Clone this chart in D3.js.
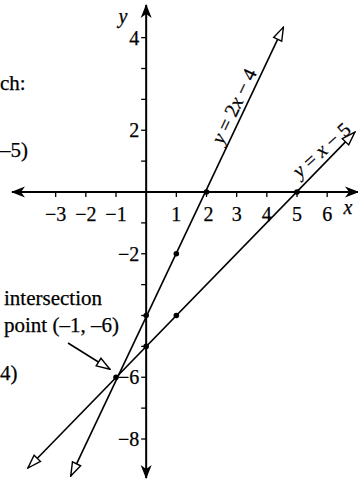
<!DOCTYPE html>
<html>
<head>
<meta charset="utf-8">
<script src="https://cdn.jsdelivr.net/npm/d3@7"></script>
<style>
  body { margin: 0; background: #fff; }
  svg { display: block; }
  text { font-family: "Liberation Serif", "DejaVu Serif", serif; fill: #000; stroke: #000; stroke-width: 0.25px; }
</style>
</head>
<body>
<svg></svg>
<script>
let svgWidth = 358
let svgHeight = 479

// ticks and labels
const xTicks = [-3, -2, -1, 1, 2, 3, 4, 5, 6]
const xLabels = ['\u22123', '\u22122', '\u22121', '1', '2', '3', '4', '5', '6']
const yTicks = [5, 4, 3, 2, 1, -1, -2, -3, -4, -5, -6, -7, -8]
const yLabelTicks = [5, 2, -2, -6, -8]
const yLabels = ['4', '2', '\u22122', '\u22126', '\u22128']

// plotted points
const points = [[1, -2], [0, -4], [2, 0], [1, -4], [0, -5], [-1, -6], [5, 0]]

// the two lines, read from their arrow tips
const line1 = [[-2.5, -9.2], [4.55, 5.34]]   // y = 2x - 4
const line2 = [[-3.92, -8.94], [6.92, 1.94]] // y = x - 5
const intersection = [-1, -6]

let x = d3.scaleLinear().domain([-1, 5]).range([116, 297])
let y = d3.scaleLinear().domain([0, -8]).range([192, 439])

let svg = d3.select('svg')
    .attr('width', svgWidth)
    .attr('height', svgHeight)

let defs = svg.append('defs')
// solid chevron arrow for the axes
defs.append('marker')
    .attr('id', 'axisArrow')
    .attr('viewBox', '0 0 14 12')
    .attr('refX', 13).attr('refY', 6)
    .attr('markerWidth', 14).attr('markerHeight', 12)
    .attr('markerUnits', 'userSpaceOnUse')
    .attr('orient', 'auto-start-reverse')
    .append('path')
    .attr('d', 'M0,0.5 L14,6 L0,11.5 L4,6 Z')
    .attr('fill', '#000')
// open triangle arrow for the lines
defs.append('marker')
    .attr('id', 'openArrow')
    .attr('viewBox', '0 0 16 12')
    .attr('refX', 15).attr('refY', 6)
    .attr('markerWidth', 16).attr('markerHeight', 12)
    .attr('markerUnits', 'userSpaceOnUse')
    .attr('orient', 'auto-start-reverse')
    .append('path')
    .attr('d', 'M1.5,1.5 L15,6 L1.5,10.5 Z')
    .attr('fill', '#fff')
    .attr('stroke', '#000')
    .attr('stroke-width', 1.4)
    .attr('stroke-linejoin', 'miter')

// axes
svg.append('line')
    .attr('x1', 12).attr('x2', 358)
    .attr('y1', y(0)).attr('y2', y(0))
    .attr('stroke', '#000').attr('stroke-width', 2)
    .attr('marker-start', 'url(#axisArrow)')
    .attr('marker-end', 'url(#axisArrow)')
svg.append('line')
    .attr('x1', x(0)).attr('x2', x(0))
    .attr('y1', 5).attr('y2', 478)
    .attr('stroke', '#000').attr('stroke-width', 2)
    .attr('marker-start', 'url(#axisArrow)')
    .attr('marker-end', 'url(#axisArrow)')

svg.selectAll('.xtick').data(xTicks)
    .enter().append('line')
    .attr('class', 'xtick')
    .attr('x1', d => x(d)).attr('x2', d => x(d))
    .attr('y1', y(0)).attr('y2', y(0) + 5)
    .attr('stroke', '#000').attr('stroke-width', 1.3)

svg.selectAll('.ytick').data(yTicks)
    .enter().append('line')
    .attr('class', 'ytick')
    .attr('x1', x(0) - 5).attr('x2', x(0))
    .attr('y1', d => y(d)).attr('y2', d => y(d))
    .attr('stroke', '#000').attr('stroke-width', 1.3)

svg.selectAll('.xlabel').data(xTicks)
    .enter().append('text')
    .attr('class', 'xlabel')
    .attr('x', d => x(d) + (d == 2 ? 2 : 0))
    .attr('y', y(0) + 29)
    .attr('text-anchor', 'middle')
    .style('font-size', '20px')
    .text((d, i) => xLabels[i])

svg.selectAll('.ylabel').data(yLabelTicks)
    .enter().append('text')
    .attr('class', 'ylabel')
    .attr('x', x(0) - 7)
    .attr('y', d => y(d) + 7)
    .attr('text-anchor', 'end')
    .style('font-size', '20px')
    .text((d, i) => yLabels[i])

svg.append('text')
    .attr('x', 348).attr('y', 214)
    .attr('text-anchor', 'middle')
    .style('font-size', '20px').style('font-style', 'italic')
    .text('x')
svg.append('text')
    .attr('x', 123).attr('y', 23)
    .attr('text-anchor', 'middle')
    .style('font-size', '20px').style('font-style', 'italic')
    .text('y')

// the lines
let lineGen = d3.line().x(d => x(d[0])).y(d => y(d[1]))
;[line1, line2].forEach(function(l){
    svg.append('path')
        .attr('d', lineGen(l))
        .attr('fill', 'none')
        .attr('stroke', '#000')
        .attr('stroke-width', 1.6)
        .attr('marker-start', 'url(#openArrow)')
        .attr('marker-end', 'url(#openArrow)')
})

svg.selectAll('.pt').data(points)
    .enter().append('circle')
    .attr('class', 'pt')
    .attr('cx', d => x(d[0]))
    .attr('cy', d => y(d[1]))
    .attr('r', 2.8)
    .attr('fill', '#000')

// line labels
function lineLabel(txt, pos, angle){
    let t = svg.append('text')
        .attr('transform', `translate(${x(pos[0])},${y(pos[1])}) rotate(${angle})`)
        .attr('text-anchor', 'middle')
        .style('font-size', '20px')
    txt.forEach(function(part){
        t.append('tspan').style('font-style', part[1] ? 'italic' : 'normal').text(part[0])
    })
}
lineLabel([['y', 1], [' = 2', 0], ['x', 1], [' \u2212 4', 0]], [3.11, 2.69], -64.7)
lineLabel([['y', 1], [' = ', 0], ['x', 1], [' \u2212 5', 0]], [5.96, 1.2], -42)

// annotation
svg.append('text').attr('x', 4).attr('y', 305).style('font-size', '21px').text('intersection')
svg.append('text').attr('x', 4).attr('y', 332).style('font-size', '21px')
    .text('point (\u20131, \u20136)')
svg.append('line')
    .attr('x1', 68).attr('y1', 343)
    .attr('x2', x(intersection[0]) - 6).attr('y2', y(intersection[1]) - 8)
    .attr('stroke', '#000').attr('stroke-width', 1.5)
    .attr('marker-end', 'url(#openArrow)')

// fragments of the page text at the left edge
svg.append('text').attr('x', 0).attr('y', 90).style('font-size', '21px').text('ch:')
svg.append('text').attr('x', 0).attr('y', 157).style('font-size', '21px').text('\u20135)')
svg.append('text').attr('x', 0).attr('y', 380).style('font-size', '21px').text('4)')
</script>
</body>
</html>
